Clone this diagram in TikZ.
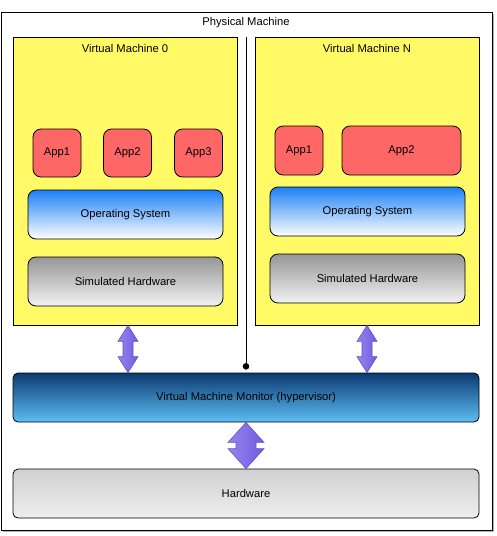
\documentclass[tikz,border=0pt]{standalone}
\usepackage{fontspec}
\setmainfont{Liberation Sans}
\usetikzlibrary{arrows.meta,calc,shadows}

\definecolor{vmyellow}{RGB}{255,250,102}
\definecolor{appred}{RGB}{255,102,102}
\definecolor{osblue}{RGB}{28,128,245}
\definecolor{simgrey}{RGB}{150,150,150}
\definecolor{vmmdark}{RGB}{12,58,112}
\definecolor{vmmlight}{RGB}{92,190,245}
\definecolor{hwtop}{RGB}{208,208,208}
\definecolor{hwbottom}{RGB}{238,238,238}
\definecolor{arrowlight}{RGB}{150,132,240}
\definecolor{arrowdark}{RGB}{112,92,222}
\definecolor{arrowedge}{RGB}{96,80,200}

\tikzset{
  box/.style={draw, line width=0.8pt, inner sep=0pt},
  pmbox/.style={box, fill=white, drop shadow={shadow xshift=2pt, shadow yshift=-2pt, opacity=0.6}},
  vmbox/.style={box, fill=vmyellow},
  appbox/.style={box, rounded corners=8pt, fill=appred},
  osbox/.style={box, rounded corners=8pt, top color=osblue, bottom color=white},
  simbox/.style={box, rounded corners=8pt, top color=simgrey, bottom color=white!95!black},
  vmmbox/.style={box, rounded corners=5pt, top color=vmmdark, bottom color=vmmlight},
  hwbox/.style={box, rounded corners=5pt, top color=hwtop, bottom color=hwbottom},
  blockarrow/.style={left color=arrowlight, right color=arrowdark, draw=arrowedge, line width=0.6pt, line join=miter}
}

% vertical block arrow: top tip, bottom tip, half shaft, half head, head length
\newcommand\blockarrow[5]{%
  \path[blockarrow] let \p1=(#1), \p2=(#2) in
    (\x1,\y1) -- (\x1+#4,\y1-#5) -- (\x1+#3,\y1-#5) -- (\x1+#3,\y2+#5)
    -- (\x1+#4,\y2+#5) -- (\x1,\y2) -- (\x1-#4,\y2+#5) -- (\x1-#3,\y2+#5)
    -- (\x1-#3,\y1-#5) -- (\x1-#4,\y1-#5) -- cycle;}

\begin{document}
\begin{tikzpicture}[x=1pt, y=-1pt, every node/.style={font=\fontsize{11.2}{13}\selectfont}]
 \useasboundingbox (0,0) rectangle (496,536);
 % physical machine
 \node[pmbox, minimum width=491pt, minimum height=518pt] (pm) at (246.5,271) {};
 \node (pmlabel) at (246,23) {Physical Machine};
 % virtual machine 0
 \node[vmbox, minimum width=224pt, minimum height=288pt] (vm0) at (125,181) {};
 \node (vm0label) at (125,48) {Virtual Machine 0};
 \node[appbox, minimum width=48pt, minimum height=48pt] (app01) at (57,153) {App1};
 \node[appbox, minimum width=48pt, minimum height=48pt] (app02) at (127.5,153) {App2};
 \node[appbox, minimum width=48pt, minimum height=48pt] (app03) at (198.5,153) {App3};
 \node[osbox, minimum width=195pt, minimum height=49pt] (os0) at (125.5,214.5) {Operating System};
 \node[simbox, minimum width=195pt, minimum height=49pt] (sim0) at (125.5,281.5) {Simulated Hardware};
 % virtual machine N
 \node[vmbox, minimum width=224pt, minimum height=288pt] (vmN) at (367,181) {};
 \node (vmNlabel) at (367,48) {Virtual Machine N};
 \node[appbox, minimum width=48pt, minimum height=49pt] (appN1) at (299,150.5) {App1};
 \node[appbox, minimum width=119pt, minimum height=49pt] (appN2) at (401.5,150.5) {App2};
 \node[osbox, minimum width=195pt, minimum height=49pt] (osN) at (367.5,211.5) {Operating System};
 \node[simbox, minimum width=195pt, minimum height=49pt] (simN) at (367.5,278.5) {Simulated Hardware};
 % monitor and hardware
 \node[vmmbox, minimum width=466pt, minimum height=49pt] (vmm) at (246,397.5) {Virtual Machine Monitor (hypervisor)};
 \node[hwbox, minimum width=466pt, minimum height=49pt] (hw) at (246,493.5) {Hardware};
 % connectors
 \draw[line width=0.8pt, {Circle[length=6.5pt]}-] ([yshift=3pt]vmm.north) -- (vmm.north |- vm0.north);
 \coordinate (arr0) at ([xshift=3pt]vm0.south);
 \blockarrow{arr0}{vmm.north -| arr0}{5pt}{10pt}{16pt}
 \blockarrow{vmN.south}{vmm.north -| vmN.south}{5pt}{10pt}{16pt}
 \blockarrow{vmm.south}{hw.north}{10pt}{18pt}{20pt}
\end{tikzpicture}
\end{document}
